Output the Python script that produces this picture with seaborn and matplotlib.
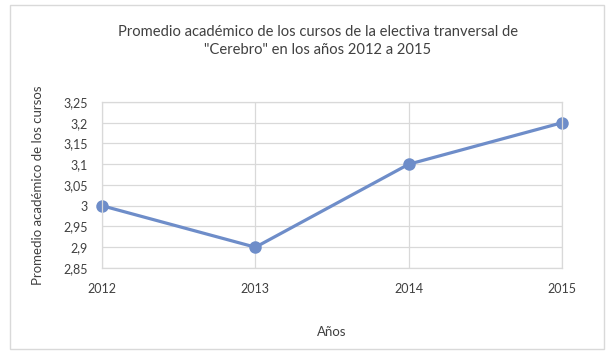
import matplotlib
matplotlib.use("Agg")
import pandas as pd
import seaborn as sns
import matplotlib.pyplot as plt
from matplotlib.patches import Rectangle

# Datos
anios = [2012, 2013, 2014, 2015]
promedios = [3.0, 2.9, 3.1, 3.2]
y_ticks = [2.85, 2.9, 2.95, 3.0, 3.05, 3.1, 3.15, 3.2, 3.25]
y_labels = ["2,85", "2,9", "2,95", "3", "3,05", "3,1", "3,15", "3,2", "3,25"]

df = pd.DataFrame({"anio": anios, "promedio": promedios})

sns.set_style("white")
plt.rcParams['font.family'] = ['Lato', 'DejaVu Sans']

fig = plt.figure(figsize=(6.11, 3.54), dpi=100)
ax = fig.add_axes([0.167, 0.243, 0.753, 0.469])

sns.lineplot(data=df, x="anio", y="promedio", ax=ax, color="#6E8DC9",
             linewidth=2.3, marker="o", markersize=9, markeredgewidth=0)

ax.set_xlim(2012, 2015)
ax.set_ylim(2.85, 3.25)
ax.set_xticks(anios)
ax.set_xticklabels([str(a) for a in anios], fontsize=9, color="#404040")
ax.set_yticks(y_ticks)
ax.set_yticklabels(y_labels, fontsize=9, color="#404040")
ax.tick_params(axis="x", length=0, pad=11)
ax.tick_params(axis="y", length=0, pad=10)
ax.grid(True, color="#D9D9D9", linewidth=0.9)
ax.set_axisbelow(True)
for s in ax.spines.values():
    s.set_color("#D9D9D9")
    s.set_linewidth(0.9)
for line in ax.lines:
    line.set_clip_on(False)

ax.set_xlabel("Años", fontsize=9.5, color="#404040", labelpad=22)
ax.set_ylabel("Promedio académico de los cursos", fontsize=9.5, color="#404040", labelpad=14)

fig.text(0.52, 0.883, "Promedio académico de los cursos de la electiva tranversal de\n\"Cerebro\" en los años 2012 a 2015",
         ha="center", va="center", fontsize=10.6, color="#404040", linespacing=1.35)

# Borde del área del gráfico
fig.patches.append(Rectangle((0.016, 0.014), 0.972, 0.972, transform=fig.transFigure,
                             fill=False, edgecolor="#D9D9D9", linewidth=1))

plt.savefig("out.png", dpi=100)
